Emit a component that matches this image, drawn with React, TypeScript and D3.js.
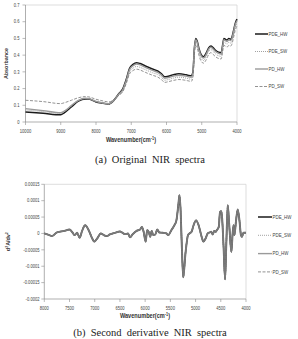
import React from "react";
import * as d3 from "d3";

// ---------- (a) Original NIR spectra ----------
const WN_A = [10000, 9500, 9000, 8900, 8700, 8500, 8300, 8200, 8000, 7800, 7650, 7500, 7350, 7250, 7150, 7050, 6950, 6850, 6750, 6600, 6400, 6250, 6150, 6050, 5950, 5800, 5650, 5500, 5400, 5300, 5250, 5210, 5170, 5130, 5080, 5020, 4950, 4880, 4800, 4740, 4680, 4600, 4520, 4450, 4400, 4370, 4330, 4280, 4230, 4180, 4140, 4100, 4050, 4000];
const A_PDE_HW = [0.060, 0.052, 0.043, 0.055, 0.090, 0.125, 0.138, 0.137, 0.120, 0.112, 0.107, 0.128, 0.170, 0.195, 0.250, 0.320, 0.345, 0.355, 0.350, 0.335, 0.317, 0.305, 0.290, 0.270, 0.274, 0.283, 0.288, 0.285, 0.280, 0.276, 0.300, 0.440, 0.500, 0.485, 0.440, 0.405, 0.390, 0.410, 0.445, 0.455, 0.445, 0.428, 0.418, 0.415, 0.470, 0.500, 0.495, 0.490, 0.500, 0.495, 0.510, 0.545, 0.590, 0.615];
const A_PDE_SW = [0.072, 0.062, 0.052, 0.062, 0.095, 0.128, 0.140, 0.138, 0.121, 0.112, 0.107, 0.124, 0.162, 0.182, 0.232, 0.298, 0.322, 0.332, 0.327, 0.313, 0.295, 0.284, 0.269, 0.250, 0.254, 0.263, 0.268, 0.265, 0.260, 0.256, 0.280, 0.418, 0.478, 0.463, 0.418, 0.382, 0.368, 0.388, 0.423, 0.433, 0.423, 0.406, 0.396, 0.393, 0.447, 0.477, 0.472, 0.467, 0.477, 0.472, 0.487, 0.522, 0.567, 0.592];
const A_PD_HW = [0.080, 0.068, 0.055, 0.065, 0.098, 0.130, 0.142, 0.140, 0.123, 0.114, 0.109, 0.128, 0.168, 0.190, 0.243, 0.312, 0.337, 0.347, 0.342, 0.327, 0.309, 0.297, 0.282, 0.262, 0.266, 0.275, 0.280, 0.277, 0.272, 0.268, 0.292, 0.432, 0.492, 0.477, 0.432, 0.397, 0.382, 0.402, 0.437, 0.447, 0.437, 0.420, 0.410, 0.407, 0.462, 0.492, 0.487, 0.482, 0.492, 0.487, 0.502, 0.537, 0.582, 0.607];
const A_PD_SW = [0.130, 0.122, 0.110, 0.115, 0.130, 0.145, 0.152, 0.150, 0.136, 0.126, 0.120, 0.132, 0.160, 0.178, 0.225, 0.287, 0.308, 0.316, 0.311, 0.297, 0.280, 0.269, 0.255, 0.237, 0.241, 0.249, 0.254, 0.251, 0.247, 0.243, 0.266, 0.400, 0.458, 0.444, 0.400, 0.365, 0.352, 0.370, 0.405, 0.415, 0.405, 0.389, 0.380, 0.377, 0.430, 0.458, 0.454, 0.449, 0.458, 0.454, 0.469, 0.503, 0.548, 0.575];
const A_X_TICKS = [10000, 9000, 8000, 7000, 6000, 5000, 4000];
const A_Y_TICKS = [0, 0.1, 0.2, 0.3, 0.4, 0.5, 0.6, 0.7];

// ---------- (b) Second derivative (values x 1e-5) ----------
const WN_B = [8000, 7900, 7850, 7750, 7600, 7500, 7450, 7400, 7350, 7300, 7250, 7190, 7120, 7050, 7010, 6950, 6880, 6820, 6760, 6700, 6600, 6500, 6400, 6340, 6300, 6250, 6170, 6100, 6065, 6030, 5990, 5960, 5930, 5900, 5870, 5840, 5800, 5760, 5720, 5650, 5580, 5540, 5480, 5420, 5380, 5340, 5320, 5300, 5270, 5245, 5200, 5150, 5120, 5080, 5040, 4990, 4940, 4880, 4845, 4800, 4760, 4720, 4690, 4660, 4630, 4600, 4580, 4540, 4515, 4490, 4475, 4445, 4415, 4390, 4362, 4330, 4290, 4265, 4246, 4230, 4200, 4165, 4130, 4100, 4080, 4050, 4000];
const B_PDE_HW = [0, -0.5, -0.8, 0.3, 0.8, 1.2, 0.5, -0.5, 0.2, -1.3, 0.8, 2.5, 1.0, -1.5, -2.5, -1.5, 0, -0.5, -0.8, -0.3, 0.2, 0.6, -0.2, 0, -1.2, -0.3, 0.8, 1.2, 2.0, 0.5, -2.5, 1.0, 0.5, -1.0, 0.8, -0.5, -0.3, 1.2, 0.3, 0.2, 0, -0.5, 1.0, 2.5, 4.0, 9.0, 11.7, 8.0, -5, -13.4, -6, -0.5, 0, 0.5, 2.5, 4.0, 2.5, -1.0, -2.5, -1.5, 0, 0.3, 0.5, -0.3, 0.8, 0.5, 1.0, 2.0, 6.6, 6.8, 5.0, -4.0, -14.0, -3.0, 8.6, 2.0, -5.6, 0, 2.5, -0.5, 3.5, 7.3, 4.0, -0.5, -1.0, 0.2, 0.2];
// the four derivative curves coincide in the picture
const B_PDE_SW = B_PDE_HW;
const B_PD_HW = B_PDE_HW;
const B_PD_SW = B_PDE_HW;
const B_X_TICKS = [8000, 7500, 7000, 6500, 6000, 5500, 5000, 4500, 4000];
const B_Y_TICKS = [0.00015, 0.0001, 0.00005, 0, -0.00005, -0.0001, -0.00015, -0.0002];
const B_Y_LABELS = ["0.00015", "0.0001", "0.00005", "0", "-0.00005", "-0.0001", "-0.00015", "-0.0002"];

const SERIES_NAMES = ["PDE_HW", "PDE_SW", "PD_HW", "PD_SW"];
const STYLES = [
  { stroke: "#1a1a1a", width: 1.5, dash: "" },
  { stroke: "#8a8a8a", width: 0.8, dash: "1,1" },
  { stroke: "#9a9a9a", width: 1.4, dash: "" },
  { stroke: "#777", width: 0.8, dash: "3,1.5" },
];

const SANS = "Arial, 'Liberation Sans', sans-serif";

function T({ x, y, children, size = 5, anchor = "start", weight = "normal", sx = 0.82, rotate = 0, fill = "#444" }: any) {
  return (
    <g transform={`translate(${x},${y}) rotate(${rotate}) scale(${sx},1)`}>
      <text x={0} y={0} fontSize={size} textAnchor={anchor} fontWeight={weight} fontFamily={SANS} fill={fill}>
        {children}
      </text>
    </g>
  );
}

function Legend({ x, y, gap, lineLen }: any) {
  return (
    <g>
      {SERIES_NAMES.map((n, i) => (
        <g key={n}>
          <line x1={x} x2={x + lineLen} y1={y + i * gap} y2={y + i * gap} stroke={STYLES[i].stroke} strokeWidth={STYLES[i].width} strokeDasharray={STYLES[i].dash} />
          <T x={x + lineLen + 0.5} y={y + i * gap + 1.8} size={5.4} fill="#444">{n}</T>
        </g>
      ))}
    </g>
  );
}

export default function App() {
  // chart (a)
  const xA = d3.scaleLinear().domain([10000, 4000]).range([25.5, 237]);
  const yA = d3.scaleLinear().domain([0, 0.7]).range([122, 5]);
  const seriesA = [A_PDE_HW, A_PDE_SW, A_PD_HW, A_PD_SW];
  const lineA = (vals: number[]) =>
    d3.line<number>().x((_, i) => xA(WN_A[i])).y((v) => yA(v)).curve(d3.curveMonotoneX)(vals) || "";

  // chart (b)
  const xB = d3.scaleLinear().domain([8000, 4000]).range([44.3, 246]);
  const yB = d3.scaleLinear().domain([-0.0002, 0.00015]).range([299, 184.3]);
  const seriesB = [B_PDE_HW, B_PDE_SW, B_PD_HW, B_PD_SW];
  const lineB = (vals: number[]) =>
    d3.line<number>().x((_, i) => xB(WN_B[i])).y((v) => yB(v * 1e-5)).curve(d3.curveMonotoneX)(vals) || "";

  const axisCol = "#8c8c8c";
  const frameCol = "#d4d4d4";

  return (
    <svg width={298} height={339} style={{ position: "absolute", left: 0, top: 0, background: "#fff" }}>
      <rect x={0} y={0} width={298} height={339} fill="#fff" />
      {/* ---------------- (a) ---------------- */}
      <line x1={xA(10000)} x2={xA(4000)} y1={yA(0.7)} y2={yA(0.7)} stroke={frameCol} strokeWidth={0.8} />
      <line x1={xA(4000)} x2={xA(4000)} y1={yA(0.7)} y2={yA(0)} stroke={frameCol} strokeWidth={0.8} />
      <line x1={xA(10000)} x2={xA(10000)} y1={yA(0.7)} y2={yA(0)} stroke={axisCol} strokeWidth={0.7} />
      <line x1={xA(10000)} x2={xA(4000)} y1={yA(0)} y2={yA(0)} stroke={axisCol} strokeWidth={0.7} />
      {A_Y_TICKS.map((t) => (
        <g key={"ay" + t}>
          <line x1={xA(10000) - 3} x2={xA(10000)} y1={yA(t)} y2={yA(t)} stroke={axisCol} strokeWidth={0.6} />
          <T x={19.5} y={yA(t) + 1.7} size={5} anchor="end">{t === 0 ? "0" : String(t)}</T>
        </g>
      ))}
      {A_X_TICKS.map((t) => (
        <g key={"ax" + t}>
          <line x1={xA(t)} x2={xA(t)} y1={yA(0)} y2={yA(0) + 3} stroke={axisCol} strokeWidth={0.6} />
          <T x={xA(t)} y={132.5} size={5} anchor="middle">{String(t)}</T>
        </g>
      ))}
      <T x={7.5} y={yA(0.35)} size={6} anchor="middle" weight="bold" rotate={-90} sx={0.9} fill="#333">Absorbance</T>
      <g transform="translate(131,142) scale(0.85,1)">
        <text x={0} y={0} fontSize={6.6} fontWeight="bold" textAnchor="middle" fontFamily={SANS} fill="#333">
          Wavenumber(cm<tspan dy={-2} fontSize={4.5}>-1</tspan><tspan dy={2}>)</tspan>
        </text>
      </g>
      {seriesA.map((s, i) => (
        <path key={"pa" + i} d={lineA(s)} fill="none" stroke={STYLES[i].stroke} strokeWidth={STYLES[i].width} strokeDasharray={STYLES[i].dash} strokeLinejoin="round" />
      ))}
      <Legend x={255} y={34} gap={17.5} lineLen={13} />
      <text x={150} y={163} fontSize={10.5} textAnchor="middle" fontFamily="'Liberation Serif', 'Times New Roman', serif" fill="#222" wordSpacing={2.5}>
        (a) Original NIR spectra
      </text>

      {/* ---------------- (b) ---------------- */}
      <line x1={xB(8000)} x2={xB(4000)} y1={yB(0.00015)} y2={yB(0.00015)} stroke={frameCol} strokeWidth={0.8} />
      <line x1={xB(4000)} x2={xB(4000)} y1={yB(0.00015)} y2={yB(-0.0002)} stroke={frameCol} strokeWidth={0.8} />
      <line x1={xB(8000)} x2={xB(8000)} y1={yB(0.00015)} y2={yB(-0.0002)} stroke={axisCol} strokeWidth={0.7} />
      <line x1={xB(8000)} x2={xB(4000)} y1={yB(-0.0002)} y2={yB(-0.0002)} stroke={axisCol} strokeWidth={0.7} />
      {B_Y_TICKS.map((t, i) => (
        <g key={"by" + i}>
          <line x1={xB(8000) - 3} x2={xB(8000)} y1={yB(t)} y2={yB(t)} stroke={axisCol} strokeWidth={0.6} />
          <T x={39.5} y={yB(t) + 1.7} size={5} anchor="end">{B_Y_LABELS[i]}</T>
        </g>
      ))}
      {B_X_TICKS.map((t) => (
        <g key={"bx" + t}>
          <line x1={xB(t)} x2={xB(t)} y1={yB(-0.0002)} y2={yB(-0.0002) + 3} stroke={axisCol} strokeWidth={0.6} />
          <T x={xB(t)} y={309.5} size={5} anchor="middle">{String(t)}</T>
        </g>
      ))}
      <g transform={`translate(10,${yB(-0.000025)}) rotate(-90) scale(0.9,1)`}>
        <text x={0} y={0} fontSize={6} fontWeight="bold" textAnchor="middle" fontFamily={SANS} fill="#333">
          d<tspan dy={-2} fontSize={4}>2</tspan><tspan dy={2}>A/dv</tspan><tspan dy={-2} fontSize={4}>2</tspan>
        </text>
      </g>
      <g transform="translate(145,317.5) scale(0.85,1)">
        <text x={0} y={0} fontSize={6.6} fontWeight="bold" textAnchor="middle" fontFamily={SANS} fill="#333">
          Wavenumber(cm<tspan dy={-2} fontSize={4.5}>-1</tspan><tspan dy={2}>)</tspan>
        </text>
      </g>
      {seriesB.map((s, i) => (
        <path key={"pb" + i} d={lineB(s)} fill="none" stroke={i === 0 ? "#555" : "#7a7a7a"} strokeWidth={i === 0 ? 1.9 : 1.3} strokeDasharray={STYLES[i].dash} strokeLinejoin="round" />
      ))}
      <Legend x={258} y={217} gap={18.3} lineLen={14} />
      <text x={150} y={336} fontSize={10.5} textAnchor="middle" fontFamily="'Liberation Serif', 'Times New Roman', serif" fill="#222" wordSpacing={2.5}>
        (b) Second derivative NIR spectra
      </text>
    </svg>
  );
}
